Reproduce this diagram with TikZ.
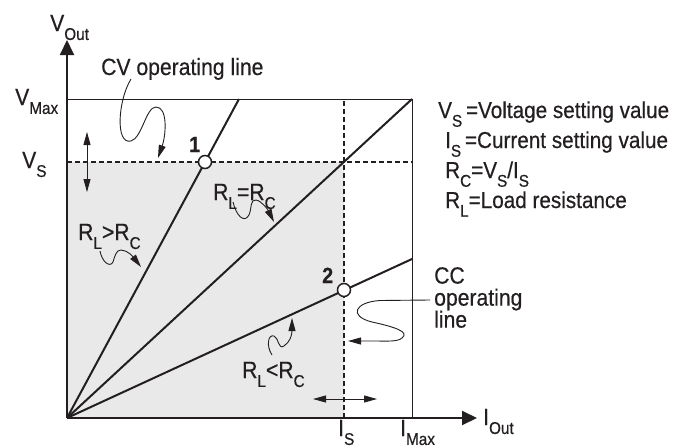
\documentclass[tikz,border=0pt]{standalone}
\usepackage{fontspec}
\setmainfont{Liberation Sans}[FakeStretch=0.9,FakeBold=0.5]
\usetikzlibrary{arrows.meta}
\definecolor{areagray}{RGB}{233,233,233}
\definecolor{ink}{RGB}{35,31,32}
\newcommand{\subs}[1]{\raisebox{-0.38em}{\fontsize{17}{17}\selectfont #1}}
\begin{document}
\begin{tikzpicture}[x=1pt,y=-1pt,
  lbl/.style={inner sep=0pt, anchor=base west, text=ink, font=\fontsize{23.5}{22}\selectfont},
  leg/.style={inner sep=0pt, anchor=base west, text=ink, font=\fontsize{23}{22}\selectfont},
  num/.style={inner sep=0pt, anchor=base west, text=ink, font=\fontsize{22}{22}\selectfont\bfseries},
  axis/.style={draw=ink, line width=2pt, -{Triangle[length=15pt,width=14pt]}},
  loadline/.style={draw=ink, line width=2pt},
  boxline/.style={draw=ink, line width=0.9pt},
  setline/.style={draw=ink, line width=1.4pt, dash pattern=on 5pt off 3pt},
  squig/.style={draw=ink, line width=0.9pt, -{Triangle[length=13pt,width=7pt]}},
  dbl/.style={draw=ink, line width=0.9pt, {Triangle[length=13pt,width=7pt]}-{Triangle[length=13pt,width=7pt]}},
  opnode/.style={circle, draw=ink, fill=white, line width=1.5pt, minimum size=13pt, inner sep=0pt}
]
\useasboundingbox (0,0) rectangle (678,447);
% coordinates
\coordinate (O) at (67,418);
\coordinate (Ytip) at (67,40);
\coordinate (Xtip) at (477,418);
\coordinate (VM0) at (67,99);
\coordinate (VMR) at (412,99);
\coordinate (IM) at (412,418);
\coordinate (VS0) at (67,162);
\coordinate (VSR) at (412,162);
\coordinate (IS0) at (344,418);
\coordinate (IST) at (344,99);
\coordinate (ISVS) at (344,162);
\coordinate (HiTop) at (239,99);
\coordinate (LoEnd) at (412,259);
% shaded region
\fill[areagray] (O) rectangle (ISVS);
% box
\draw[boxline] (VM0) -- (VMR) -- (IM);
% setting lines
\draw[setline] (VS0) -- (VSR);
\draw[setline] (IS0) -- (IST);
% load lines
\draw[loadline] (O) -- (HiTop);
\draw[loadline] (O) -- (VMR);
\draw[loadline] (O) -- (LoEnd);
% axes
\draw[axis] (O) -- (Ytip);
\draw[axis] (O) -- (Xtip);
% operating points
\node[opnode] (p1) at (205,162) {};
\node[opnode] (p2) at (344,290) {};
\node[num] (n1) at (189,152) {1};
\node[num] (n2) at (322,283) {2};
% axis labels
\node[lbl] (vout) at (50,31) {V\subs{Out}};
\node[lbl] (vmax) at (15,105) {V\subs{Max}};
\node[lbl] (vs) at (22,168) {V\subs{S}};
\node[lbl] (is) at (338,436) {I\subs{S}};
\node[lbl] (imax) at (400,436) {I\subs{Max}};
\node[lbl] (iout) at (483,425) {I\subs{Out}};
% legend
\node[leg] (lg1) at (438,118) {V\subs{S}\,=Voltage setting value};
\node[leg] (lg2) at (445,148) {I\subs{S}\,=Current setting value};
\node[leg] (lg3) at (445,178) {R\subs{C}=V\subs{S}/I\subs{S}};
\node[leg] (lg4) at (445,208) {R\subs{L}=Load resistance};
% annotations
\node[lbl] (cvl) at (101,75) {CV operating line};
\node[lbl] (req) at (213,200) {R\subs{L}=R\subs{C}};
\node[lbl] (rgt) at (78,240) {R\subs{L}>R\subs{C}};
\node[lbl] (rlt) at (242,378) {R\subs{L}<R\subs{C}};
\node[lbl, anchor=north west, align=left] (ccl) at (434,267) {CC\\operating\\line};
% squiggle arrows
\coordinate (cvs) at (131,79);
\coordinate (cvt) at (158,158);
\draw[squig] (cvs) .. controls (118,100) and (115,145) .. (131,141) .. controls (142,138) and (146,107) .. (156,107) .. controls (168,107) and (166,135) .. (cvt);
\coordinate (eqs) at (233,202);
\coordinate (eqt) at (274,222);
\draw[squig] (eqs) .. controls (236,215) and (244,224) .. (249,215) .. controls (252,208) and (250,199) .. (256,200) .. controls (262,201) and (268,210) .. (eqt);
\coordinate (gts) at (100,251);
\coordinate (gtt) at (141,267);
\draw[squig] (gts) .. controls (102,262) and (110,268) .. (113,262) .. controls (115,256) and (116,250) .. (121,250) .. controls (128,250) and (134,258) .. (gtt);
\coordinate (lts) at (272,355);
\coordinate (ltt) at (292,318);
\draw[squig] (lts) .. controls (266,346) and (268,334) .. (274,336) .. controls (279,338) and (278,350) .. (284,346) .. controls (290,342) and (292,335) .. (ltt);
\coordinate (ccs) at (430,300);
\coordinate (cct) at (348,341);
\draw[squig] (ccs) -- (380,300.5) .. controls (355,302) and (348,316) .. (372,322) .. controls (395,327) and (410,332) .. (402,338) .. controls (398,342) and (385,341) .. (375,341) -- (cct);
% adjustment arrows
\coordinate (va) at (87,132);
\coordinate (vb) at (87,192);
\draw[dbl] (va) -- (vb);
\coordinate (ha) at (313,399);
\coordinate (hb) at (377,399);
\draw[dbl] (ha) -- (hb);
\end{tikzpicture}
\end{document}
